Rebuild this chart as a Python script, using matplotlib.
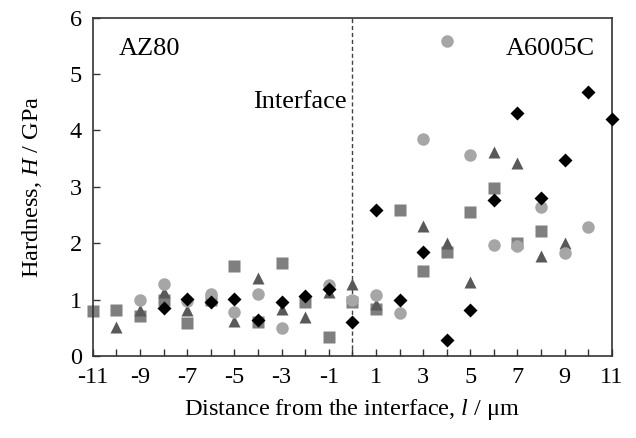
import numpy as np
import matplotlib
matplotlib.use("Agg")
import matplotlib.pyplot as plt

plt.rcParams['font.family'] = ['Liberation Serif', 'DejaVu Serif']
plt.rcParams['mathtext.fontset'] = 'custom'
plt.rcParams['mathtext.it'] = 'Liberation Serif:italic'
plt.rcParams['mathtext.rm'] = 'Liberation Serif'

# data: position (um) -> hardness (GPa)
circle_x = [-9, -8, -7, -6, -5, -4, -3, -1, 0, 1, 2, 3, 4, 5, 6, 7, 8, 9, 10]
circle_y = [1.00, 1.28, 0.98, 1.10, 0.79, 1.10, 0.49, 1.26, 1.00, 1.09, 0.76,
            3.85, 5.59, 3.56, 1.97, 1.95, 2.64, 1.82, 2.29]

square_x = [-11, -10, -9, -8, -7, -6, -5, -4, -3, -2, -1, 0, 1, 2, 3, 4, 5, 6, 7, 8]
square_y = [0.80, 0.82, 0.71, 0.99, 0.59, 1.00, 1.60, 0.61, 1.65, 0.96, 0.34,
            0.96, 0.83, 2.59, 1.50, 1.84, 2.55, 2.98, 2.01, 2.21]

tri_x = [-10, -9, -8, -7, -5, -4, -3, -2, -1, 0, 1, 3, 4, 5, 6, 7, 8, 9]
tri_y = [0.51, 0.82, 1.14, 0.82, 0.62, 1.39, 0.83, 0.70, 1.14, 1.27, 0.92,
         2.31, 2.01, 1.32, 3.61, 3.43, 1.78, 2.01]

dia_x = [-8, -7, -6, -5, -4, -3, -2, -1, 0, 1, 2, 3, 4, 5, 6, 7, 8, 9, 10, 11]
dia_y = [0.85, 1.02, 0.95, 1.02, 0.64, 0.95, 1.06, 1.19, 0.61, 2.59, 1.00,
         1.85, 0.28, 0.81, 2.77, 4.30, 2.80, 3.48, 4.68, 4.21]

xticks = list(range(-11, 12, 2))

fig = plt.figure(figsize=(6.36, 4.38), dpi=100)
ax = fig.add_axes([0.146, 0.187, 0.816, 0.773])

ax.axvline(0, color="#404040", ls=(0, (3, 2)), lw=1.0, zorder=1)

ax.plot(square_x, square_y, ls="none", marker="s", ms=8.3, color="#7f7f7f", mec="none", zorder=2, clip_on=False)
ax.plot(tri_x, tri_y, ls="none", marker="^", ms=9.3, color="#595959", mec="none", zorder=3, clip_on=False)
ax.plot(circle_x, circle_y, ls="none", marker="o", ms=9, color="#a6a6a6", mec="none", zorder=4, clip_on=False)
ax.plot(dia_x, dia_y, ls="none", marker="D", ms=6.8, color="black", mec="none", zorder=5, clip_on=False)

ax.set_xlim(-11, 11)
ax.set_ylim(0, 6)
ax.set_xticks(range(-11, 12))
ax.set_xticklabels([str(t) if t in xticks else "" for t in range(-11, 12)])
ax.set_yticks(range(0, 7))
ax.tick_params(direction="in", length=5, width=1, labelsize=17.5, pad=8, color="#333333")
ax.tick_params(top=False, right=False)
for s in ax.spines.values():
    s.set_linewidth(1.2)
    s.set_color("#333333")

ax.set_xlabel(r"Distance from the interface, $l$ / μm", fontsize=17.5, labelpad=6)
ax.set_ylabel(r"Hardness, $H$ / GPa", fontsize=17.5, labelpad=18)

ax.text(-9.9, 5.45, "AZ80", fontsize=19, va="center", ha="left")
ax.text(10.3, 5.45, "A6005C", fontsize=19, va="center", ha="right")
ax.text(-0.25, 4.5, "Interface", fontsize=19, va="center", ha="right")

fig.savefig("out.png", dpi=100)
